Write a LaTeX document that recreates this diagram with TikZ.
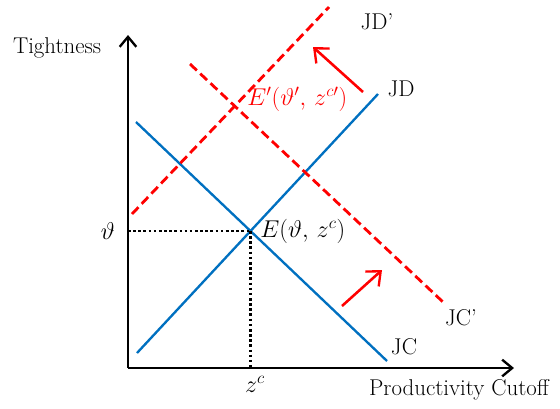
\documentclass[tikz,border=0pt]{standalone}
\usepackage{tikz}
\usetikzlibrary{arrows.meta}
\definecolor{curveblue}{RGB}{0,112,192}
\begin{document}
\begin{tikzpicture}[
  x=0.03cm, y=-0.03cm,
  font=\fontsize{19.5}{23}\selectfont,
  axis/.style={line width=2.3pt,-{Straight Barb[length=3mm,width=5mm,line width=2pt]}},
  curve/.style={curveblue,line width=2pt},
  shifted/.style={red,line width=2.4pt,dash pattern=on 8pt off 4pt},
  guide/.style={black,line width=2.4pt,dash pattern=on 2.2pt off 2.2pt},
  movearr/.style={red,line width=2.2pt,-{Straight Barb[length=3.5mm,width=6mm,line width=2pt]}},
  eqlab/.style={font=\fontsize{21}{24}\selectfont,inner sep=1pt}
]
\useasboundingbox (0,0) rectangle (560,408);
% axes
\coordinate (o) at (128,368);
\coordinate (ytip) at (128,35);
\coordinate (xtip) at (514,368);
\draw[axis] (o) -- (ytip);
\draw[axis] (o) -- (xtip);
\node (ylab) at (57,48) {Tightness};
\node (xlab) at (459,390) {Productivity Cutoff};

% original curves
\coordinate (jc0) at (136,122);
\coordinate (jc1) at (387,361);
\coordinate (jd0) at (137,353);
\coordinate (jd1) at (378,94);
\draw[curve] (jc0) -- (jc1);
\draw[curve] (jd0) -- (jd1);
\node (jc) at (404,347) {JC};
\node (jd) at (401,89) {JD};

% shifted curves
\coordinate (jcs0) at (190,64);
\coordinate (jcs1) at (443,302);
\coordinate (jds0) at (132,214);
\coordinate (jds1) at (329,7);
\draw[shifted] (jcs0) -- (jcs1);
\draw[shifted] (jds0) -- (jds1);
\node (jcs) at (461,318) {JC'};
\node (jds) at (377,22) {JD'};

% equilibrium
\coordinate (e) at (250.5,231);
\coordinate (ey) at (e -| o);
\coordinate (ex) at (e |- o);
\draw[guide] (ey) -- (e);
\draw[guide] (e) -- (ex);
\node[eqlab] (theta) at (108,231) {$\vartheta$};
\node[eqlab] (zc) at (255,384) {$z^{c}$};
\node[eqlab,anchor=west] (elab) at (259,231) {$E(\vartheta,\,z^{c})$};
\node[eqlab,anchor=west,red] (eslab) at (246,99) {$E'(\vartheta',\,z^{c\prime})$};

% shift arrows
\coordinate (a0) at (363,92);
\coordinate (a1) at (313,47);
\coordinate (b0) at (342,306);
\coordinate (b1) at (382,270);
\draw[movearr] (a0) -- (a1);
\draw[movearr] (b0) -- (b1);
\end{tikzpicture}
\end{document}
